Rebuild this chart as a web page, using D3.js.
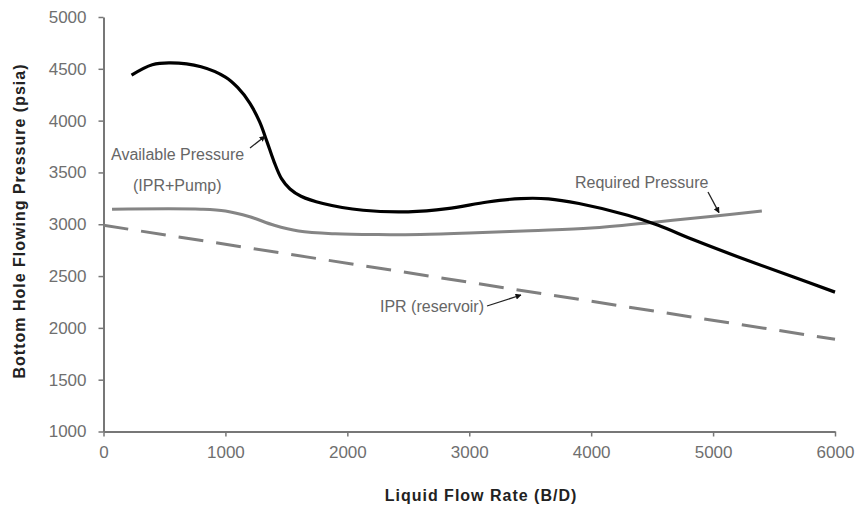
<!DOCTYPE html>
<html>
<head>
<meta charset="utf-8">
<script src="https://cdn.jsdelivr.net/npm/d3@7"></script>
<style>
  html, body { margin: 0; padding: 0; background: #fff; }
  svg { display: block; font-family: "Liberation Sans", Arial, sans-serif; }
</style>
</head>
<body>
<svg id="chart" width="857" height="506"></svg>
<script>
// Flow rate (B/D) and bottom hole flowing pressure (psia) for each curve
const availRate = [230, 400, 550, 800, 1000, 1100, 1200, 1280, 1340, 1400, 1460, 1530, 1620, 1800, 2130, 2500, 2820, 3150, 3420, 3650, 3900, 4300, 4550, 4850, 5280, 5660, 6000];
const availPres = [4440, 4540, 4558, 4520, 4420, 4320, 4170, 3990, 3800, 3600, 3440, 3340, 3270, 3200, 3135, 3120, 3150, 3215, 3248, 3245, 3200, 3087, 2990, 2845, 2652, 2490, 2345];

const reqRate = [70, 800, 1000, 1200, 1400, 1600, 1900, 2250, 2600, 3000, 3500, 4000, 4500, 5000, 5400];
const reqPres = [3145, 3145, 3128, 3072, 2990, 2935, 2908, 2900, 2902, 2915, 2938, 2963, 3018, 3078, 3128];

const iprRate = [0, 6000];
const iprPres = [2990, 1890];

const xTicks = [0, 1000, 2000, 3000, 4000, 5000, 6000];
const yTicks = [1000, 1500, 2000, 2500, 3000, 3500, 4000, 4500, 5000];

const svg = d3.select("#chart");

const x = d3.scaleLinear().domain([0, 6000]).range([103.5, 835]);
const y = d3.scaleLinear().domain([1000, 5000]).range([431.5, 17]);

// arrowhead used by the callouts
svg.append("defs").append("marker")
  .attr("id", "arrow")
  .attr("viewBox", "0 0 10 10")
  .attr("refX", 9).attr("refY", 5)
  .attr("markerWidth", 6).attr("markerHeight", 6)
  .attr("markerUnits", "userSpaceOnUse")
  .attr("orient", "auto")
  .append("path").attr("d", "M0,0 L10,5 L0,10 z").attr("fill", "#111");

// axes
const xAxis = svg.append("g")
  .attr("transform", `translate(0,${y(1000)})`)
  .call(d3.axisBottom(x).tickValues(xTicks).tickFormat(d3.format("d")).tickSize(5).tickPadding(9).tickSizeOuter(0));
const yAxis = svg.append("g")
  .attr("transform", `translate(${x(0)},0)`)
  .call(d3.axisLeft(y).tickValues(yTicks).tickFormat(d3.format("d")).tickSize(5).tickPadding(12).tickSizeOuter(0));

[xAxis, yAxis].forEach(g => {
  g.select(".domain").attr("stroke", "#777").attr("stroke-width", 2);
  g.selectAll(".tick line").attr("stroke", "#777").attr("stroke-width", 1.5);
  g.selectAll(".tick text").attr("fill", "#6f6f6f").attr("font-size", 17)
    .attr("font-family", "\"Liberation Sans\", Arial, sans-serif");
});

// axis titles
svg.append("text")
  .attr("x", 481).attr("y", 501)
  .attr("text-anchor", "middle")
  .attr("font-size", 16).attr("font-weight", "bold").attr("letter-spacing", 1)
  .attr("fill", "#222")
  .text("Liquid Flow Rate (B/D)");

svg.append("text")
  .attr("transform", "translate(25,221) rotate(-90)")
  .attr("text-anchor", "middle")
  .attr("font-size", 16).attr("font-weight", "bold").attr("letter-spacing", 1)
  .attr("fill", "#222")
  .text("Bottom Hole Flowing Pressure (psia)");

// curves
const line = d3.line()
  .x(d => x(d[0])).y(d => y(d[1]))
  .curve(d3.curveCatmullRom.alpha(0.5));

const ipr = d3.zip(iprRate, iprPres);
const req = d3.zip(reqRate, reqPres);
const avail = d3.zip(availRate, availPres);

svg.append("path").datum(ipr)
  .attr("d", d3.line().x(d => x(d[0])).y(d => y(d[1])))
  .attr("fill", "none").attr("stroke", "#7f7f7f").attr("stroke-width", 3)
  .attr("stroke-dasharray", "25,13");

svg.append("path").datum(req)
  .attr("d", line)
  .attr("fill", "none").attr("stroke", "#858585").attr("stroke-width", 3);

svg.append("path").datum(avail)
  .attr("d", line)
  .attr("fill", "none").attr("stroke", "#000").attr("stroke-width", 3.2);

// annotations
const note = (tx, ty, s, anchor) => svg.append("text")
  .attr("x", tx).attr("y", ty)
  .attr("text-anchor", anchor || "start")
  .attr("font-size", 16).attr("fill", "#666")
  .text(s);

note(111, 160, "Available Pressure");
note(133, 191, "(IPR+Pump)");
note(575, 188, "Required Pressure");
note(484, 312, "IPR (reservoir)", "end");

const callout = (x1, y1, x2, y2) => svg.append("line")
  .attr("x1", x1).attr("y1", y1).attr("x2", x2).attr("y2", y2)
  .attr("stroke", "#222").attr("stroke-width", 1.3)
  .attr("marker-end", "url(#arrow)");

callout(250, 148, x(1325), y(3850));
callout(708, 192, 719, y(3112));
callout(487, 306, 521, 295);
</script>
</body>
</html>
